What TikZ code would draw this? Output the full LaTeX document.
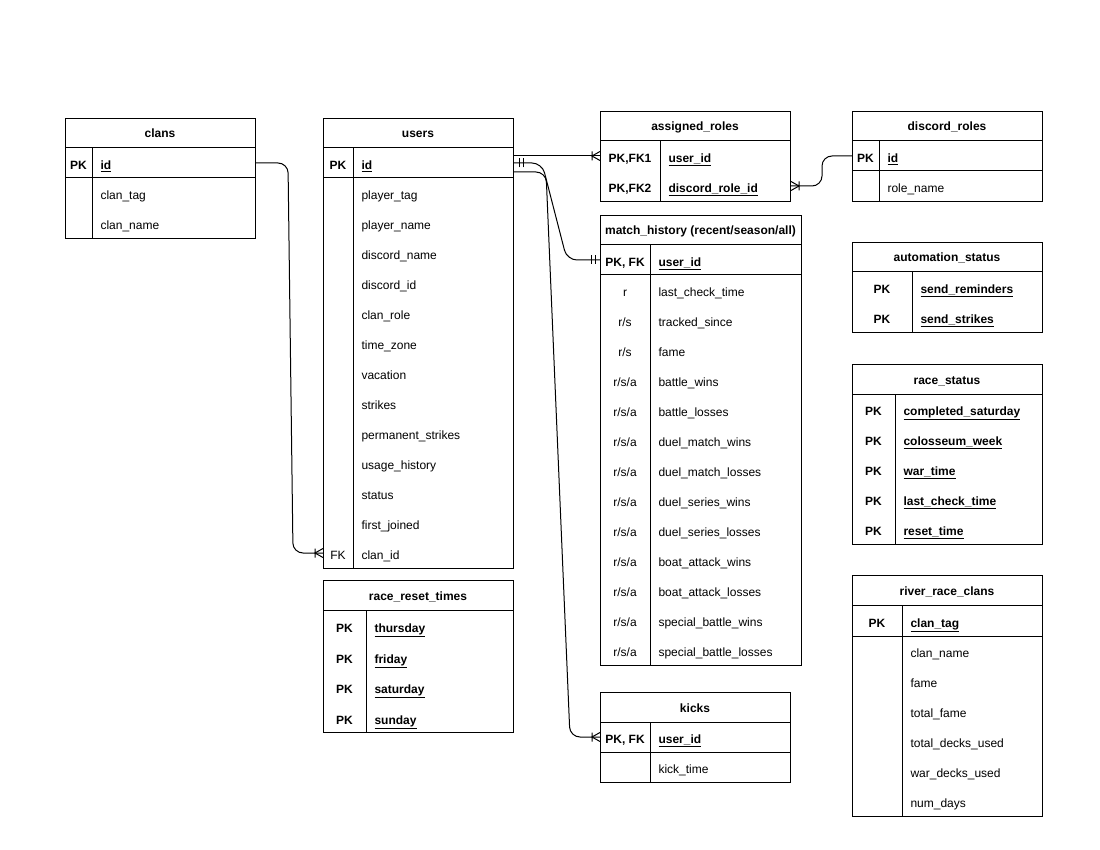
\documentclass[tikz,border=0pt]{standalone}
\usepackage{fontspec}
\setmainfont{Liberation Sans}
\usetikzlibrary{calc}
\newcommand{\tblfont}{\fontsize{12}{14}\selectfont}
\tikzset{
  tbl/.style={draw, anchor=north west, inner sep=0pt},
  ttl/.style={font=\tblfont\bfseries, text height=10pt, text depth=0pt},
  key/.style={font=\tblfont\bfseries, text height=13.4pt, text depth=0pt},
  fkey/.style={font=\tblfont, text height=13.4pt, text depth=0pt},
  fld/.style={font=\tblfont, anchor=west, inner xsep=8pt, text height=13.4pt, text depth=0pt},
  pkfld/.style={fld, font=\tblfont\bfseries},
  conn/.style={rounded corners=10pt},
  crowfoot/.pic={\draw (-8,-4.5) -- (-8,4.5) (0,-4.5) -- (-8,0) -- (0,4.5);},
  mandone/.pic={\draw (-5,-4.5) -- (-5,4.5) (-9,-4.5) -- (-9,4.5);}
}
\begin{document}
\begin{tikzpicture}[x=1pt, y=-1pt, line width=1pt]
  \useasboundingbox (0,0) rectangle (1100,850);

  % clans
  \node[tbl, minimum width=190pt, minimum height=120pt] (clans) at (65,118) {};
  \draw (65,148) -- (255,148) (65,178) -- (255,178) (92,148) -- (92,238);
  \node[ttl] (clans-t) at (160,133) {clans};
  \node[key] (clans-pk) at (78.5,163) {PK};
  \node[pkfld] (clans-id) at (92,163) {\underline{id}};
  \node[fld] (clans-1) at (92,193) {clan\_tag};
  \node[fld] (clans-2) at (92,223) {clan\_name};

  % users
  \node[tbl, minimum width=190pt, minimum height=450pt] (users) at (323,118) {};
  \draw (323,148) -- (513,148) (323,178) -- (513,178) (353,148) -- (353,568);
  \node[ttl] (users-t) at (418,133) {users};
  \node[key] (users-pk) at (338,163) {PK};
  \node[pkfld] (users-id) at (353,163) {\underline{id}};
  \foreach \f [count=\i] in {player\_tag, player\_name, discord\_name, discord\_id, clan\_role, time\_zone, vacation, strikes, permanent\_strikes, usage\_history, status, first\_joined}
    \node[fld] (users-\i) at (353,163+30*\i) {\f};
  \node[fkey] (users-fk) at (338,553) {FK};
  \node[fld] (users-cid) at (353,553) {clan\_id};

  % race_reset_times
  \node[tbl, minimum width=190pt, minimum height=152pt] (rrt) at (323,580) {};
  \draw (323,610) -- (513,610) (366,610) -- (366,732);
  \node[ttl] (rrt-t) at (418,595) {race\_reset\_times};
  \foreach \f [count=\i] in {thursday, friday, saturday, sunday} {
    \node[key] (rrt-k\i) at (344.5,595.5+30.5*\i) {PK};
    \node[pkfld] (rrt-\i) at (366,595.5+30.5*\i) {\underline{\f}};
  }

  % assigned_roles
  \node[tbl, minimum width=190pt, minimum height=90pt] (ar) at (600,111) {};
  \draw (600,141) -- (790,141) (660,141) -- (660,201);
  \node[ttl] (ar-t) at (695,126) {assigned\_roles};
  \node[key] (ar-k1) at (630,156) {PK,FK1};
  \node[pkfld] (ar-1) at (660,156) {\underline{user\_id}};
  \node[key] (ar-k2) at (630,186) {PK,FK2};
  \node[pkfld] (ar-2) at (660,186) {\underline{discord\_role\_id}};

  % discord_roles
  \node[tbl, minimum width=190pt, minimum height=90pt] (dr) at (852,111) {};
  \draw (852,141) -- (1042,141) (852,171) -- (1042,171) (879,141) -- (879,201);
  \node[ttl] (dr-t) at (947,126) {discord\_roles};
  \node[key] (dr-pk) at (865.5,156) {PK};
  \node[pkfld] (dr-id) at (879,156) {\underline{id}};
  \node[fld] (dr-1) at (879,186) {role\_name};

  % match_history
  \node[tbl, minimum width=201pt, minimum height=450pt] (mh) at (600,215) {};
  \draw (600,245) -- (801,245) (600,275) -- (801,275) (650,245) -- (650,665);
  \node[ttl] (mh-t) at (700.5,230) {match\_history (recent/season/all)};
  \node[key] (mh-pk) at (625,260) {PK, FK};
  \node[pkfld] (mh-0) at (650,260) {\underline{user\_id}};
  \node[fkey] (mh-k1) at (625,290) {r};
  \node[fld] (mh-1) at (650,290) {last\_check\_time};
  \node[fkey] (mh-k2) at (625,320) {r/s};
  \node[fld] (mh-2) at (650,320) {tracked\_since};
  \node[fkey] (mh-k3) at (625,350) {r/s};
  \node[fld] (mh-3) at (650,350) {fame};
  \foreach \f [count=\i from 4] in {battle\_wins, battle\_losses, duel\_match\_wins, duel\_match\_losses, duel\_series\_wins, duel\_series\_losses, boat\_attack\_wins, boat\_attack\_losses, special\_battle\_wins, special\_battle\_losses} {
    \node[fkey] (mh-k\i) at (625,260+30*\i) {r/s/a};
    \node[fld] (mh-\i) at (650,260+30*\i) {\f};
  }

  % automation_status
  \node[tbl, minimum width=190pt, minimum height=90pt] (as) at (852,242) {};
  \draw (852,272) -- (1042,272) (912,272) -- (912,332);
  \node[ttl] (as-t) at (947,257) {automation\_status};
  \foreach \f [count=\i] in {send\_reminders, send\_strikes} {
    \node[key] (as-k\i) at (882,257+30*\i) {PK};
    \node[pkfld] (as-\i) at (912,257+30*\i) {\underline{\f}};
  }

  % race_status
  \node[tbl, minimum width=190pt, minimum height=180pt] (rs) at (852,364) {};
  \draw (852,394) -- (1042,394) (895,394) -- (895,544);
  \node[ttl] (rs-t) at (947,379) {race\_status};
  \foreach \f [count=\i] in {completed\_saturday, colosseum\_week, war\_time, last\_check\_time, reset\_time} {
    \node[key] (rs-k\i) at (873.5,379+30*\i) {PK};
    \node[pkfld] (rs-\i) at (895,379+30*\i) {\underline{\f}};
  }

  % river_race_clans
  \node[tbl, minimum width=190pt, minimum height=241pt] (rrc) at (852,575) {};
  \draw (852,605) -- (1042,605) (852,636) -- (1042,636) (902,605) -- (902,816);
  \node[ttl] (rrc-t) at (947,590.5) {river\_race\_clans};
  \node[key] (rrc-pk) at (877,621) {PK};
  \node[pkfld] (rrc-tag) at (902,621) {\underline{clan\_tag}};
  \foreach \f [count=\i] in {clan\_name, fame, total\_fame, total\_decks\_used, war\_decks\_used, num\_days}
    \node[fld] (rrc-\i) at (902,621+30*\i) {\f};

  % kicks
  \node[tbl, minimum width=190pt, minimum height=90pt] (kicks) at (600,692) {};
  \draw (600,722) -- (790,722) (600,752) -- (790,752) (650,722) -- (650,782);
  \node[ttl] (kicks-t) at (695,707) {kicks};
  \node[key] (kicks-pk) at (625,737) {PK, FK};
  \node[pkfld] (kicks-0) at (650,737) {\underline{user\_id}};
  \node[fld] (kicks-1) at (650,767) {kick\_time};

  % relations
  \draw[conn] (clans-id.west -| clans.east) -- ++(32,0) -- ($(users-cid.west -| users.west)+(-30,0)$) -- (users-cid.west -| users.west);
  \pic at (users-cid.west -| users.west) {crowfoot};

  \draw[conn] (ar-1.west -| users.east) -- (ar-1.west -| ar.west);
  \pic at (ar-1.west -| ar.west) {crowfoot};

  \draw[conn] (dr-id.west -| dr.west) -- ++(-30,0) |- (ar-2.west -| ar.east);
  \pic[rotate=180] at (ar-2.west -| ar.east) {crowfoot};

  \draw[conn] (users-id.west -| users.east) -- ++(28,0) -- ($(mh-0.west -| mh.west)+(-33,0)$) -- (mh-0.west -| mh.west);
  \pic[rotate=180] at (users-id.west -| users.east) {mandone};
  \pic at (mh-0.west -| mh.west) {mandone};

  \draw[conn] ($(users-id.west -| users.east)+(0,9)$) -- ++(32,0) -- ($(kicks-0.west -| kicks.west)+(-30,0)$) -- (kicks-0.west -| kicks.west);
  \pic at (kicks-0.west -| kicks.west) {crowfoot};
\end{tikzpicture}
\end{document}
